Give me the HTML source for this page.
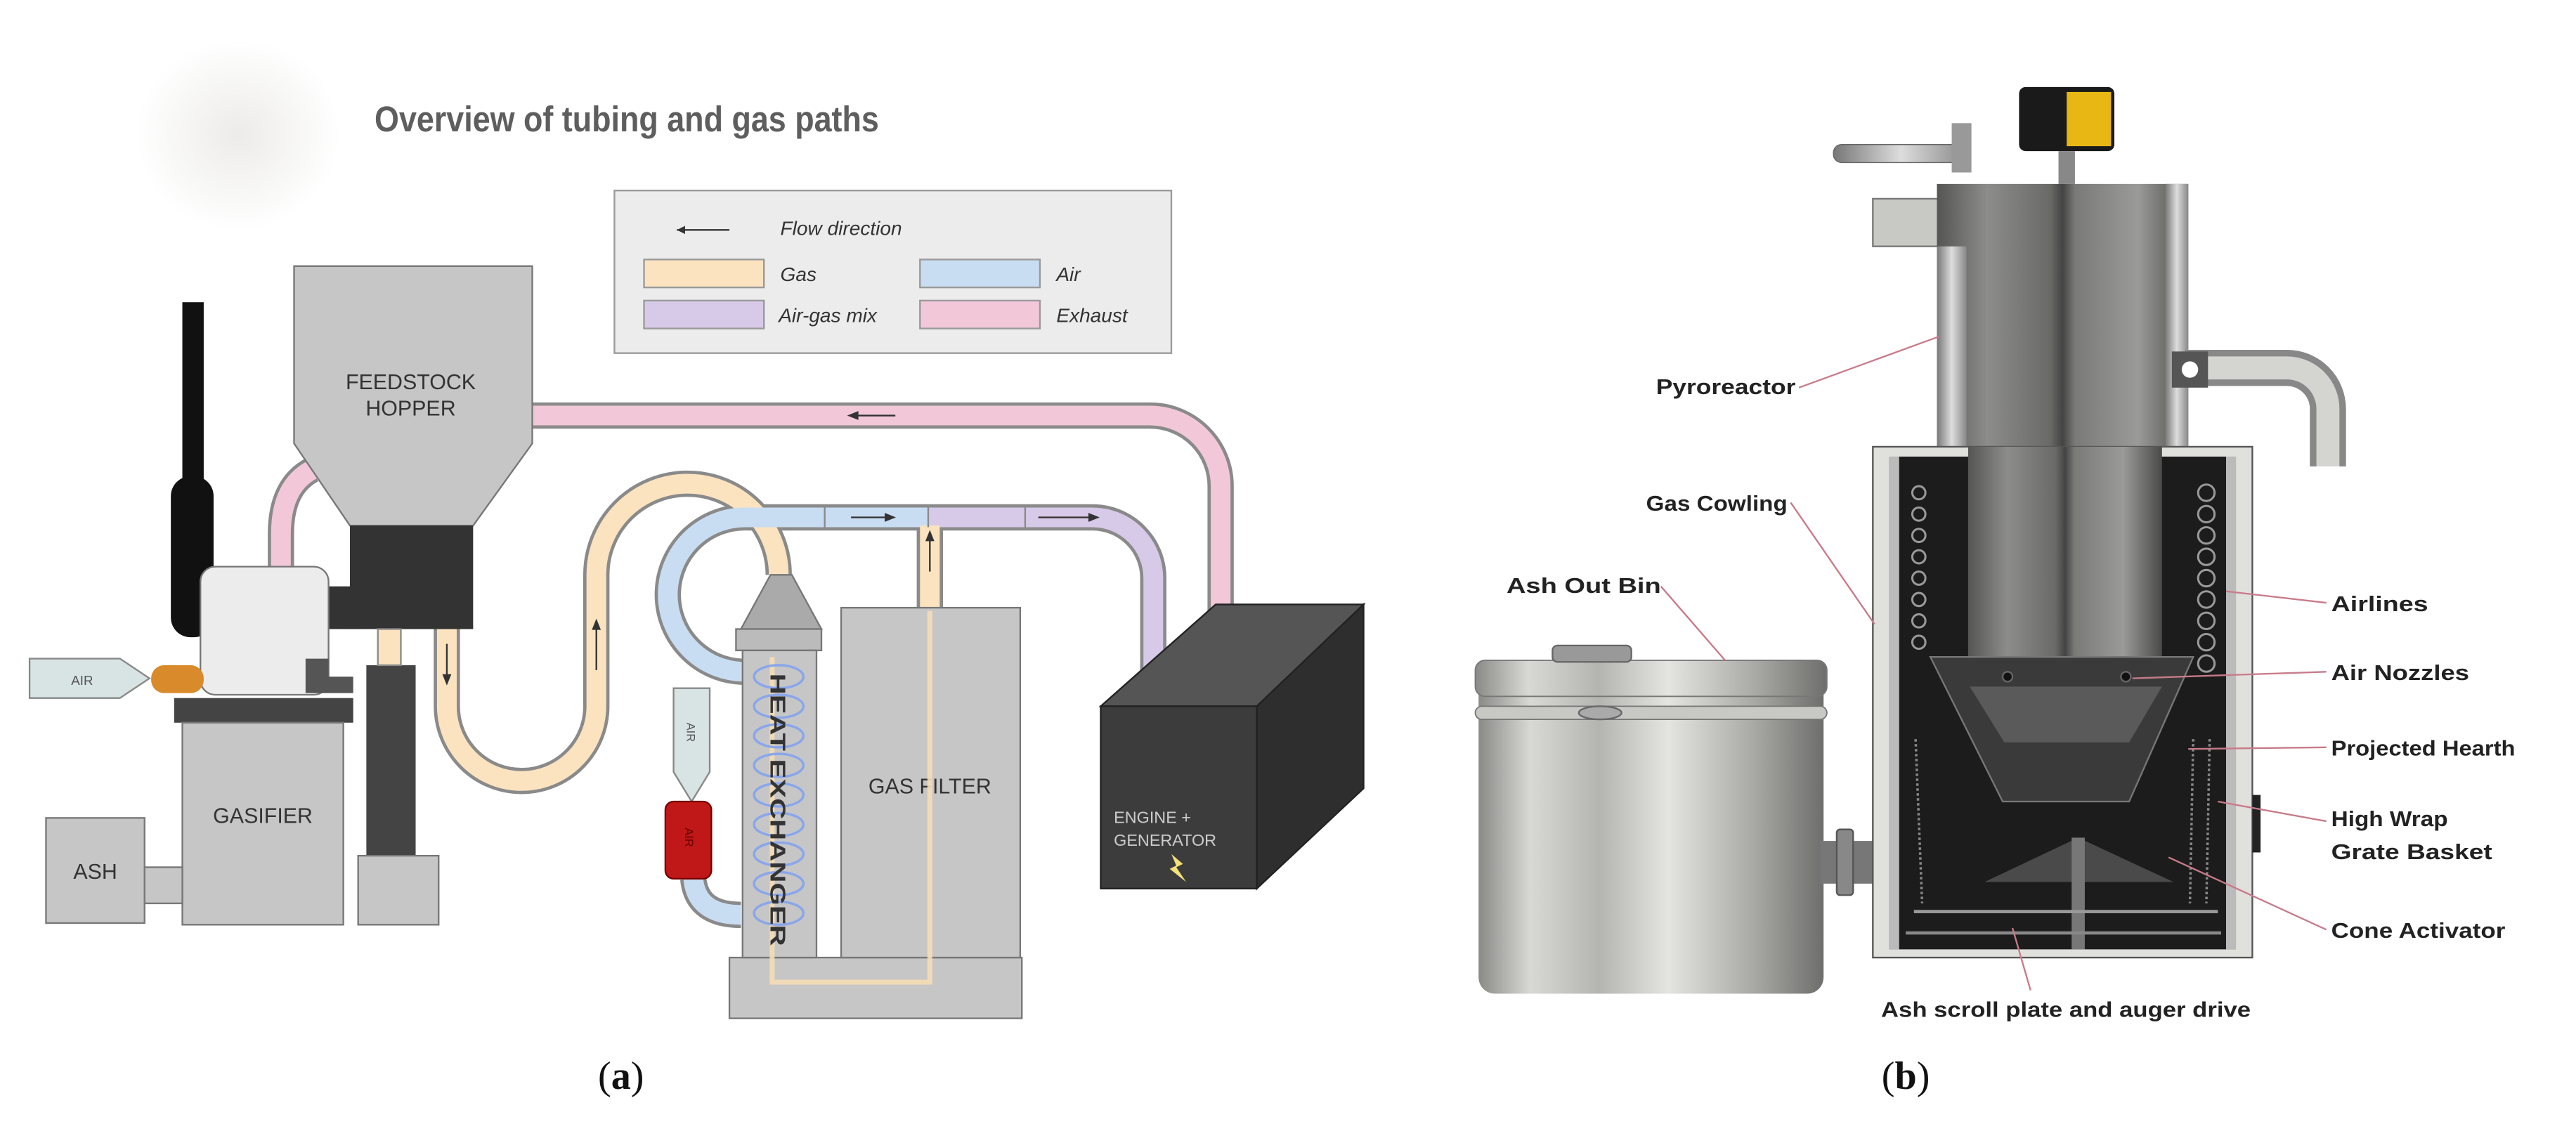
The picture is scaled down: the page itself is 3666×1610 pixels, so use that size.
<!DOCTYPE html>
<html><head><meta charset="utf-8"><style>
html,body{margin:0;padding:0;background:#fff;}
svg{display:block;}
text{font-family:"Liberation Sans",sans-serif;}
</style></head><body>
<svg width="3666" height="1610" viewBox="0 0 1568 688.6" preserveAspectRatio="none" xmlns="http://www.w3.org/2000/svg">
<defs>
<radialGradient id="blob" cx="0.5" cy="0.5" r="0.5"><stop offset="0" stop-color="#ecebe9"/><stop offset="1" stop-color="#fff"/></radialGradient>
<linearGradient id="metal" x1="0" x2="1" y1="0" y2="0">
<stop offset="0" stop-color="#8a8a88"/><stop offset="0.15" stop-color="#d8d8d4"/><stop offset="0.35" stop-color="#b4b4b0"/><stop offset="0.55" stop-color="#e4e4e0"/><stop offset="0.8" stop-color="#a8a8a4"/><stop offset="1" stop-color="#6e6e6c"/></linearGradient>
<linearGradient id="col" x1="0" x2="1">
<stop offset="0" stop-color="#555"/><stop offset="0.2" stop-color="#8c8c8a"/><stop offset="0.45" stop-color="#6a6a68"/><stop offset="0.5" stop-color="#444"/><stop offset="0.55" stop-color="#7a7a78"/><stop offset="0.8" stop-color="#9a9a98"/><stop offset="1" stop-color="#4a4a48"/></linearGradient>
<linearGradient id="wall" x1="0" x2="1"><stop offset="0" stop-color="#777"/><stop offset="0.5" stop-color="#ddd"/><stop offset="1" stop-color="#888"/></linearGradient>
</defs>

<!-- LEFT PANEL -->
<ellipse cx="145" cy="82" rx="62" ry="58" fill="url(#blob)"/>
<text x="228" y="80" font-size="22" font-weight="bold" fill="#5e5e5e" textLength="307" lengthAdjust="spacingAndGlyphs">Overview of tubing and gas paths</text>

<!-- legend -->
<rect x="374" y="116" width="339" height="99" fill="#ececec" stroke="#999" stroke-width="1"/>
<line x1="412" y1="140" x2="444" y2="140" stroke="#333" stroke-width="1"/><path d="M412 140 l5 -2.5 v5 z" fill="#333"/>
<text x="475" y="143" font-size="12" font-style="italic" fill="#333">Flow direction</text>
<rect x="392" y="158" width="73" height="17" fill="#fbe3c0" stroke="#999"/>
<text x="475" y="171" font-size="12" font-style="italic" fill="#333">Gas</text>
<rect x="560" y="158" width="73" height="17" fill="#c9ddf2" stroke="#999"/>
<text x="643" y="171" font-size="12" font-style="italic" fill="#333">Air</text>
<rect x="392" y="183" width="73" height="17" fill="#d7c9e8" stroke="#999"/>
<text x="474" y="196" font-size="12" font-style="italic" fill="#333">Air-gas mix</text>
<rect x="560" y="183" width="73" height="17" fill="#f2c8d8" stroke="#999"/>
<text x="643" y="196" font-size="12" font-style="italic" fill="#333">Exhaust</text>

<!-- pipes: outlines -->
<g fill="none" stroke="#8a8a8a" stroke-width="16">
<path d="M320 253 H700 A43 43 0 0 1 743 296 V386"/>
<path d="M190 286 Q171 296 171 325 V345"/>
<path d="M272 383 V430 A45.5 45.5 0 0 0 363 430 V350 A55.5 55.5 0 0 1 474 350"/>
<path d="M452 409 A47 47 0 0 1 455 315 H665 A37 37 0 0 1 702 352 V420"/>
<path d="M422 535 Q424 557 451 557"/>
<path d="M566 320 V370"/>
</g>
<g fill="none" stroke-width="12">
<path d="M320 253 H700 A43 43 0 0 1 743 296 V386" stroke="#f2c8d8"/>
<path d="M190 286 Q171 296 171 325 V345" stroke="#f2c8d8"/>
<path d="M272 383 V430 A45.5 45.5 0 0 0 363 430 V350 A55.5 55.5 0 0 1 474 350" stroke="#fbe3c0"/>
<path d="M452 409 A47 47 0 0 1 455 315 H565" stroke="#c9ddf2"/>
<path d="M565 315 H665 A37 37 0 0 1 702 352 V420" stroke="#d7c9e8"/>
<path d="M422 535 Q424 557 451 557" stroke="#c9ddf2"/>
<path d="M566 320 V370" stroke="#fbe3c0"/>
</g>
<g stroke="#8a8a8a" stroke-width="1"><line x1="502" y1="309" x2="502" y2="321"/><line x1="565" y1="309" x2="565" y2="321"/><line x1="624" y1="309" x2="624" y2="321"/></g>
<!-- arrows on pipes -->
<g stroke="#333" stroke-width="1" fill="#333">
<line x1="517" y1="253" x2="545" y2="253"/><path d="M517 253 l5 -2 v4z"/>
<line x1="518" y1="315" x2="542" y2="315"/><path d="M544 315 l-5 -2 v4z"/>
<line x1="632" y1="315" x2="666" y2="315"/><path d="M668 315 l-5 -2 v4z"/>
<line x1="363" y1="380" x2="363" y2="408"/><path d="M363 378 l-2 5 h4z"/>
<line x1="272" y1="392" x2="272" y2="414"/><path d="M272 416 l-2 -5 h4z"/>
<line x1="566" y1="326" x2="566" y2="348"/><path d="M566 324 l-2 5 h4z"/>
<line x1="237" y1="386" x2="237" y2="402"/><path d="M237 384 l-2 5 h4z"/>
<line x1="196" y1="446" x2="196" y2="476"/><path d="M196 444 l-2 5 h4z"/>
</g>

<!-- chimney -->
<rect x="111" y="184" width="13" height="120" fill="#111"/>
<rect x="104" y="290" width="26" height="98" rx="12" fill="#111"/>
<!-- hopper -->
<path d="M179 162 H324 V270 L288 320 H213 L179 270 Z" fill="#c6c6c6" stroke="#777"/>
<text x="250" y="237" font-size="13" fill="#333" text-anchor="middle">FEEDSTOCK</text>
<text x="250" y="253" font-size="13" fill="#333" text-anchor="middle">HOPPER</text>
<rect x="213" y="320" width="75" height="63" fill="#333"/>
<rect x="199" y="357" width="16" height="26" fill="#333"/>
<!-- gasifier -->
<rect x="122" y="345" width="78" height="78" rx="9" fill="#ececec" stroke="#777"/>
<rect x="92" y="405" width="32" height="17" rx="8" fill="#d98a2a"/>
<path d="M18 401 H73 L91 413 L73 425 H18 Z" fill="#d8e4e4" stroke="#888"/>
<text x="50" y="417" font-size="8" fill="#555" text-anchor="middle">AIR</text>
<path d="M186 401 H200 V412 H215 V422 H186 Z" fill="#555"/>
<rect x="106" y="425" width="109" height="15" fill="#444"/>
<rect x="111" y="440" width="98" height="123" fill="#c6c6c6" stroke="#777"/>
<text x="160" y="501" font-size="13" fill="#333" text-anchor="middle">GASIFIER</text>
<rect x="28" y="498" width="60" height="64" fill="#c6c6c6" stroke="#777"/>
<text x="58" y="535" font-size="13" fill="#333" text-anchor="middle">ASH</text>
<rect x="88" y="528" width="23" height="22" fill="#c6c6c6" stroke="#777"/>
<rect x="223" y="405" width="30" height="116" fill="#444"/>
<rect x="230" y="383" width="14" height="22" fill="#fbe3c0" stroke="#8a8a8a"/>
<rect x="218" y="521" width="49" height="42" fill="#c6c6c6" stroke="#777"/>

<!-- heat exchanger & filter -->
<rect x="444" y="583" width="178" height="37" fill="#c6c6c6" stroke="#777"/>
<rect x="512" y="370" width="109" height="213" fill="#c6c6c6" stroke="#777"/>
<text x="566" y="483" font-size="13" fill="#333" text-anchor="middle">GAS FILTER</text>
<path d="M469 350 H482 L500 383 H451 Z" fill="#aaa" stroke="#777"/>
<rect x="448" y="383" width="52" height="13" fill="#bbb" stroke="#777"/>
<rect x="452" y="396" width="45" height="187" fill="#c6c6c6" stroke="#777"/>
<path d="M470 400 V598 H566 V372" fill="none" stroke="#f5dcb5" stroke-width="3" opacity="0.9"/>
<g fill="none" stroke="#8aa6ea" stroke-width="1.5">
<ellipse cx="474" cy="412" rx="15" ry="7"/><ellipse cx="474" cy="430" rx="15" ry="7"/><ellipse cx="474" cy="448" rx="15" ry="7"/><ellipse cx="474" cy="466" rx="15" ry="7"/><ellipse cx="474" cy="484" rx="15" ry="7"/><ellipse cx="474" cy="502" rx="15" ry="7"/><ellipse cx="474" cy="520" rx="15" ry="7"/><ellipse cx="474" cy="538" rx="15" ry="7"/><ellipse cx="474" cy="556" rx="15" ry="7"/>
</g>
<text transform="translate(469 410) rotate(90)" font-size="13" font-weight="bold" fill="#333" textLength="166" lengthAdjust="spacingAndGlyphs">HEAT EXCHANGER</text>
<!-- air inlet & red filter -->
<path d="M410 419 H432 V470 L421 488 L410 470 Z" fill="#d8e4e4" stroke="#888"/>
<text transform="translate(418 440) rotate(90)" font-size="7" fill="#555">AIR</text>
<rect x="405" y="488" width="28" height="47" rx="5" fill="#c01818" stroke="#700"/>
<text transform="translate(417 504) rotate(90)" font-size="7" fill="#600">AIR</text>

<!-- engine -->
<path d="M670 430 L740 368 H830 L765 430 Z" fill="#555" stroke="#222"/>
<path d="M765 430 L830 368 V480 L765 541 Z" fill="#2e2e2e" stroke="#222"/>
<rect x="670" y="430" width="95" height="111" fill="#3c3c3c" stroke="#222"/>
<text x="678" y="501" font-size="10" fill="#ccc">ENGINE +</text>
<text x="678" y="515" font-size="10" fill="#ccc">GENERATOR</text>
<path d="M713 520 L720 526 L716 528 L722 537 L712 529 L716 527 Z" fill="#f3e07a"/>

<text x="378" y="663" font-size="24" fill="#111" text-anchor="middle" style="font-family:'Liberation Serif',serif">(<tspan font-weight="bold">a</tspan>)</text>

<!-- RIGHT PANEL -->
<rect x="900" y="410" width="210" height="195" rx="10" fill="url(#metal)"/>
<rect x="898" y="402" width="214" height="22" rx="6" fill="url(#metal)" stroke="#777" stroke-width="0.8"/>
<rect x="898" y="430" width="214" height="8" rx="4" fill="#c8c8c4" stroke="#777" stroke-width="0.8"/>
<ellipse cx="974" cy="434" rx="13" ry="4" fill="#aaa" stroke="#666"/>
<rect x="945" y="393" width="48" height="10" rx="3" fill="#999" stroke="#666"/>
<rect x="1108" y="512" width="32" height="26" fill="#777"/>
<rect x="1118" y="505" width="10" height="40" rx="2" fill="#888" stroke="#555"/>

<rect x="1116" y="88" width="82" height="11" rx="5" fill="url(#wall)" stroke="#666" stroke-width="0.6"/>
<rect x="1188" y="75" width="12" height="30" fill="#999"/>
<rect x="1229" y="53" width="58" height="39" rx="4" fill="#1a1a1a"/>
<rect x="1258" y="56" width="27" height="33" fill="#e8b714"/>
<rect x="1253" y="92" width="10" height="20" fill="#888"/>
<rect x="1140" y="121" width="58" height="29" fill="#c8c8c4" stroke="#777"/>
<rect x="1179" y="112" width="153" height="160" fill="url(#col)"/>
<rect x="1318" y="112" width="14" height="160" fill="url(#wall)"/>
<rect x="1179" y="150" width="18" height="122" fill="url(#wall)"/>
<path d="M1330 224 H1392 A25 25 0 0 1 1417 249 V284" fill="none" stroke="#888" stroke-width="22"/>
<path d="M1330 224 H1392 A25 25 0 0 1 1417 249 V284" fill="none" stroke="#d4d4d0" stroke-width="14"/>
<rect x="1322" y="214" width="22" height="22" fill="#555"/><circle cx="1333" cy="225" r="5" fill="#fff"/>
<rect x="1140" y="272" width="231" height="311" fill="#e0e0dc" stroke="#555"/>
<rect x="1150" y="278" width="211" height="300" fill="#1c1c1c"/>
<rect x="1150" y="278" width="6" height="300" fill="#bbb"/>
<rect x="1355" y="278" width="6" height="300" fill="#bbb"/>
<rect x="1198" y="272" width="118" height="130" fill="url(#col)"/>
<g fill="none" stroke="#999" stroke-width="1.3">
<circle cx="1168" cy="300" r="4"/><circle cx="1168" cy="313" r="4"/><circle cx="1168" cy="326" r="4"/><circle cx="1168" cy="339" r="4"/><circle cx="1168" cy="352" r="4"/><circle cx="1168" cy="365" r="4"/><circle cx="1168" cy="378" r="4"/><circle cx="1168" cy="391" r="4"/>
<circle cx="1343" cy="300" r="5"/><circle cx="1343" cy="313" r="5"/><circle cx="1343" cy="326" r="5"/><circle cx="1343" cy="339" r="5"/><circle cx="1343" cy="352" r="5"/><circle cx="1343" cy="365" r="5"/><circle cx="1343" cy="378" r="5"/><circle cx="1343" cy="391" r="5"/><circle cx="1343" cy="404" r="5"/>
</g>
<path d="M1175 400 H1335 L1296 488 H1219 Z" fill="#3a3a3a" stroke="#777"/>
<path d="M1199 418 H1316 L1296 452 H1220 Z" fill="#5a5a5a"/>
<circle cx="1222" cy="412" r="3" fill="#111" stroke="#666"/><circle cx="1294" cy="412" r="3" fill="#111" stroke="#666"/>
<g stroke="#888" stroke-width="1.5" stroke-dasharray="1.5 1.5"><line x1="1166" y1="450" x2="1170" y2="550"/><line x1="1345" y1="450" x2="1343" y2="550"/><line x1="1335" y1="450" x2="1333" y2="550"/></g>
<path d="M1208 537 L1265 510 L1323 537 Z" fill="#4a4a4a"/>
<rect x="1261" y="510" width="8" height="68" fill="#777"/>
<path d="M1165 555 H1350" stroke="#999" stroke-width="2"/>
<path d="M1160 568 H1352" stroke="#888" stroke-width="2"/>
<rect x="1371" y="484" width="5" height="35" fill="#222"/>

<g stroke="#c87a8a" stroke-width="1" fill="none">
<line x1="1095" y1="236" x2="1180" y2="205"/>
<line x1="1090" y1="306" x2="1141" y2="380"/>
<line x1="1011" y1="357" x2="1050" y2="402"/>
<line x1="1416" y1="367" x2="1355" y2="360"/>
<line x1="1416" y1="409" x2="1298" y2="413"/>
<line x1="1416" y1="455" x2="1332" y2="456"/>
<line x1="1416" y1="500" x2="1350" y2="488"/>
<line x1="1416" y1="566" x2="1320" y2="522"/>
<line x1="1236" y1="603" x2="1225" y2="565"/>
</g>
<g font-size="13" fill="#222" font-weight="bold">
<text x="1008" y="240" textLength="85" lengthAdjust="spacingAndGlyphs">Pyroreactor</text>
<text x="1002" y="311" textLength="86" lengthAdjust="spacingAndGlyphs">Gas Cowling</text>
<text x="917" y="361" textLength="94" lengthAdjust="spacingAndGlyphs">Ash Out Bin</text>
<text x="1419" y="372" textLength="59" lengthAdjust="spacingAndGlyphs">Airlines</text>
<text x="1419" y="414" textLength="84" lengthAdjust="spacingAndGlyphs">Air Nozzles</text>
<text x="1419" y="460" textLength="112" lengthAdjust="spacingAndGlyphs">Projected Hearth</text>
<text x="1419" y="503" textLength="71" lengthAdjust="spacingAndGlyphs">High Wrap</text>
<text x="1419" y="523" textLength="98" lengthAdjust="spacingAndGlyphs">Grate Basket</text>
<text x="1419" y="571" textLength="106" lengthAdjust="spacingAndGlyphs">Cone Activator</text>
<text x="1145" y="619" textLength="225" lengthAdjust="spacingAndGlyphs">Ash scroll plate and auger drive</text>
</g>
<text x="1160" y="663" font-size="24" fill="#111" text-anchor="middle" style="font-family:'Liberation Serif',serif">(<tspan font-weight="bold">b</tspan>)</text>
</svg>
</body></html>
